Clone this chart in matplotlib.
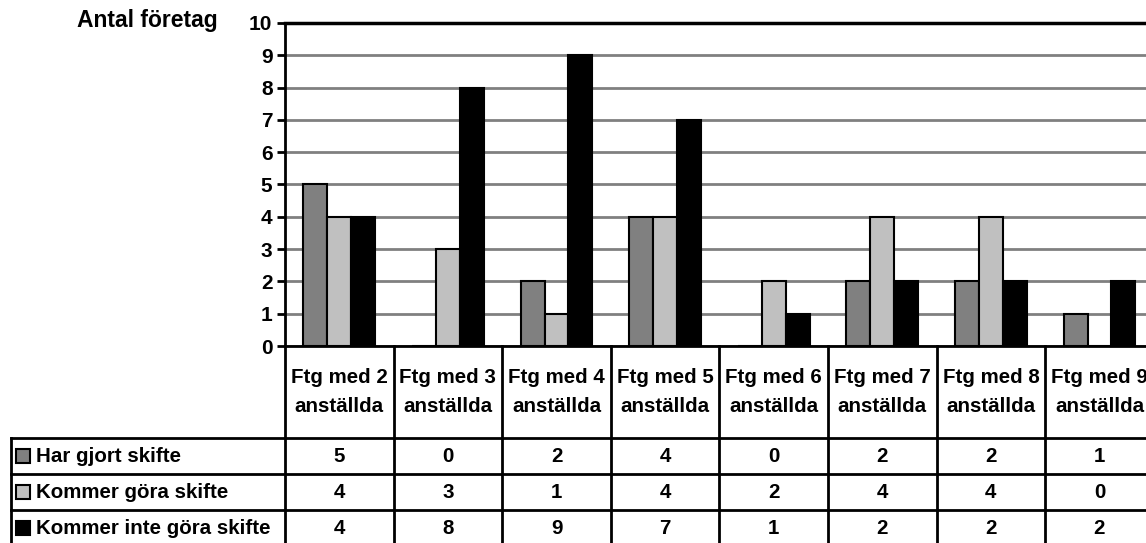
import matplotlib.pyplot as plt
import matplotlib.transforms as mtransforms
from matplotlib.lines import Line2D
from matplotlib.patches import Rectangle

categories = [f"Ftg med {n}\nanställda" for n in range(2, 10)]
series_names = ["Har gjort skifte", "Kommer göra skifte", "Kommer inte göra skifte"]
har_gjort = [5, 0, 2, 4, 0, 2, 2, 1]
kommer_gora = [4, 3, 1, 4, 2, 4, 4, 0]
kommer_inte = [4, 8, 9, 7, 1, 2, 2, 2]
colors = ["#808080", "#C0C0C0", "#000000"]

plt.rcParams["font.family"] = ["Liberation Sans", "DejaVu Sans"]
plt.rcParams["font.weight"] = "bold"

W, H = 1146, 543
fig = plt.figure(figsize=(W / 100, H / 100), dpi=100)


def fx(px):
    return px / W


def fy(py):
    return 1 - py / H


# plot area in pixels (right edge runs past the image, as in the reference)
cat_w = 108.6
left, top, bottom = 285, 23, 346
right = left + len(categories) * cat_w
ax = fig.add_axes([fx(left), fy(bottom), (right - left) / W, (bottom - top) / H])

series = [har_gjort, kommer_gora, kommer_inte]
bar_w = 0.22
xs = list(range(len(categories)))
for k, (vals, col) in enumerate(zip(series, colors)):
    pos = [x + (k - 1) * bar_w for x in xs]
    ax.bar(pos, vals, bar_w, color=col, edgecolor="black", linewidth=1.5, zorder=3)

ax.set_xlim(-0.5, len(categories) - 0.5)
ax.set_ylim(0, 10)
ax.set_yticks(range(0, 11))
ax.set_xticks([])
ax.yaxis.grid(True, color="#808080", linewidth=2)
ax.set_axisbelow(True)
ax.tick_params(axis="y", length=6, width=2, labelsize=15, pad=3)
for s in ["left", "bottom"]:
    ax.spines[s].set_linewidth(2)
ax.spines["top"].set_linewidth(2.5)
ax.spines["right"].set_visible(False)

fig.text(fx(218), fy(20), "Antal företag", ha="right", va="center", fontsize=16.5)

# data table below the chart
trans = mtransforms.blended_transform_factory(ax.transData, fig.transFigure)
row_lines = [438, 474, 510]
row_centers = [456, 492, 528]
table_bottom = H + 5

for i in range(len(categories) + 1):
    fig.add_artist(Line2D([i - 0.5, i - 0.5], [fy(bottom), fy(table_bottom)],
                          transform=trans, color="black", lw=2, clip_on=False))
fig.add_artist(Line2D([fx(11), fx(11)], [fy(row_lines[0]), fy(table_bottom)],
                      transform=fig.transFigure, color="black", lw=2))
for yl in row_lines:
    fig.add_artist(Line2D([fx(11), 1.0], [fy(yl), fy(yl)],
                          transform=fig.transFigure, color="black", lw=2))

for i, cat in enumerate(categories):
    fig.text(i, fy((bottom + row_lines[0]) / 2), cat, transform=trans,
             ha="center", va="center", fontsize=14.8, linespacing=1.65)

for name, vals, col, yc in zip(series_names, series, colors, row_centers):
    fig.add_artist(Rectangle((fx(16), fy(yc + 7)), 14 / W, 14 / H,
                             transform=fig.transFigure, facecolor=col,
                             edgecolor="black", linewidth=1.5))
    fig.text(fx(36), fy(yc), name, ha="left", va="center", fontsize=14.8)
    for i, v in enumerate(vals):
        fig.text(i, fy(yc), str(v), transform=trans, ha="center", va="center",
                 fontsize=14.8)

fig.savefig("out.png", dpi=100)
